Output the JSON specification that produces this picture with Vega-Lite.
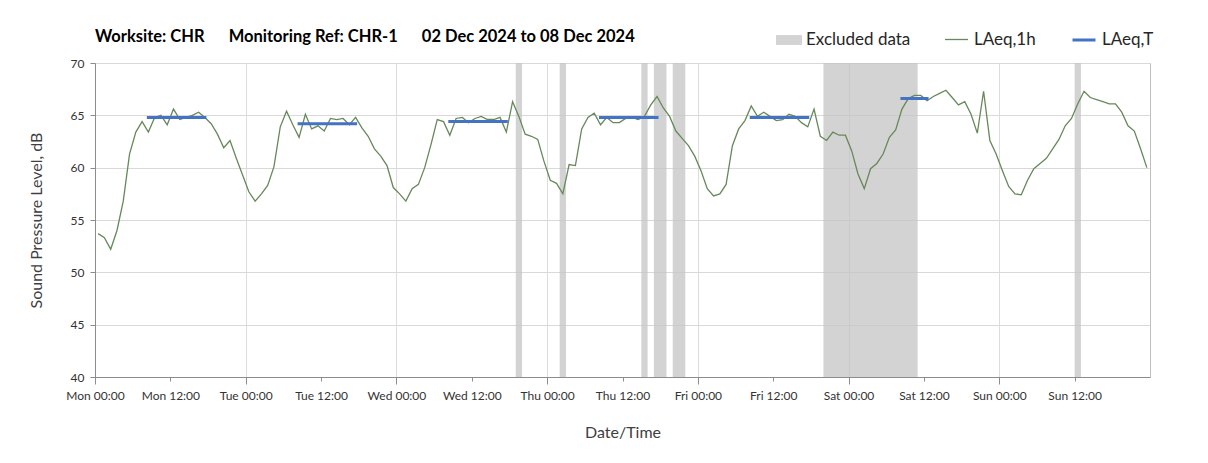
{
  "$schema": "https://vega.github.io/schema/vega-lite/v6.json",
  "width": 1055,
  "height": 314,
  "autosize": {"type": "none"},
  "padding": {"left": 95, "top": 63, "right": 58, "bottom": 86},
  "background": "white",
  "config": {"font": "Lato", "view": {"stroke": "#bfbfbf", "strokeWidth": 1}},
  "title": {
    "text": "Worksite: CHR\u00a0\u00a0\u00a0\u00a0\u00a0\u00a0Monitoring Ref: CHR-1\u00a0\u00a0\u00a0\u00a0\u00a0\u00a002 Dec 2024 to 08 Dec 2024",
    "anchor": "start", "frame": "group", "fontSize": 16.5, "fontWeight": "bold",
    "color": "#000000", "offset": 18, "dy": 36, "font": "Lato"
  },
  "layer": [
    {
      "data": {"values": [
        {"t": "2024-12-04T19:00", "t2": "2024-12-04T20:00"},
        {"t": "2024-12-05T02:00", "t2": "2024-12-05T03:00"},
        {"t": "2024-12-05T15:00", "t2": "2024-12-05T16:00"},
        {"t": "2024-12-05T17:00", "t2": "2024-12-05T19:00"},
        {"t": "2024-12-05T20:00", "t2": "2024-12-05T22:00"},
        {"t": "2024-12-06T20:00", "t2": "2024-12-07T11:00"},
        {"t": "2024-12-08T12:00", "t2": "2024-12-08T13:00"}
      ]},
      "mark": {"type": "rect", "opacity": 0.75},
      "encoding": {
        "x": {
          "field": "t", "type": "temporal",
          "scale": {"domain": [{"year": 2024, "month": 12, "date": 2, "hours": 0}, {"year": 2024, "month": 12, "date": 9, "hours": 0}]},
          "axis": {
            "values": [
              {"year": 2024, "month": 12, "date": 2, "hours": 0}, {"year": 2024, "month": 12, "date": 2, "hours": 12},
              {"year": 2024, "month": 12, "date": 3, "hours": 0}, {"year": 2024, "month": 12, "date": 3, "hours": 12},
              {"year": 2024, "month": 12, "date": 4, "hours": 0}, {"year": 2024, "month": 12, "date": 4, "hours": 12},
              {"year": 2024, "month": 12, "date": 5, "hours": 0}, {"year": 2024, "month": 12, "date": 5, "hours": 12},
              {"year": 2024, "month": 12, "date": 6, "hours": 0}, {"year": 2024, "month": 12, "date": 6, "hours": 12},
              {"year": 2024, "month": 12, "date": 7, "hours": 0}, {"year": 2024, "month": 12, "date": 7, "hours": 12},
              {"year": 2024, "month": 12, "date": 8, "hours": 0}, {"year": 2024, "month": 12, "date": 8, "hours": 12}
            ],
            "format": "%a %H:%M",
            "labelFlush": false,
            "labelOverlap": false,
            "labelFontSize": 12,
            "labelColor": "#333333",
            "labelPadding": {"condition": {"test": "hours(datum.value) === 0", "value": 6}, "value": 9},
            "title": "Date/Time",
            "titleFontSize": 16,
            "titleFontWeight": "normal",
            "titleColor": "#404040",
            "titlePadding": 23,
            "domainColor": "#8c8c8c",
            "tickColor": "#8c8c8c",
            "tickSize": {"condition": {"test": "hours(datum.value) === 0", "value": 7}, "value": 4},
            "gridColor": "#dcdcdc",
            "gridOpacity": {"condition": {"test": "hours(datum.value) === 0", "value": 1}, "value": 0}
          }
        },
        "x2": {"field": "t2"},
        "fill": {
          "datum": "Excluded data",
          "scale": {"domain": ["Excluded data"], "range": ["#c4c4c4"]},
          "legend": {
            "title": null,
            "orient": "none",
            "legendX": 681,
            "legendY": -36,
            "labelFontSize": 17,
            "labelFont": "Lato",
            "labelColor": "#262626",
            "labelOffset": 4,
            "symbolSize": 676,
            "symbolType": "M-1,-0.38H1V0.38H-1Z",
            "symbolStrokeWidth": 0
          }
        }
      }
    },
    {
      "data": {"values": [
        {"t": "2024-12-02T00:30", "v": 53.7}, {"t": "2024-12-02T01:30", "v": 53.3}, {"t": "2024-12-02T02:30", "v": 52.2}, {"t": "2024-12-02T03:30", "v": 54.0},
        {"t": "2024-12-02T04:30", "v": 56.8}, {"t": "2024-12-02T05:30", "v": 61.3}, {"t": "2024-12-02T06:30", "v": 63.4}, {"t": "2024-12-02T07:30", "v": 64.4},
        {"t": "2024-12-02T08:30", "v": 63.4}, {"t": "2024-12-02T09:30", "v": 64.8}, {"t": "2024-12-02T10:30", "v": 65.0}, {"t": "2024-12-02T11:30", "v": 64.1},
        {"t": "2024-12-02T12:30", "v": 65.6}, {"t": "2024-12-02T13:30", "v": 64.6}, {"t": "2024-12-02T14:30", "v": 64.8}, {"t": "2024-12-02T15:30", "v": 65.0},
        {"t": "2024-12-02T16:30", "v": 65.3}, {"t": "2024-12-02T17:30", "v": 64.8}, {"t": "2024-12-02T18:30", "v": 64.2}, {"t": "2024-12-02T19:30", "v": 63.2},
        {"t": "2024-12-02T20:30", "v": 61.9}, {"t": "2024-12-02T21:30", "v": 62.6}, {"t": "2024-12-02T22:30", "v": 60.9}, {"t": "2024-12-02T23:30", "v": 59.3},
        {"t": "2024-12-03T00:30", "v": 57.7}, {"t": "2024-12-03T01:30", "v": 56.8}, {"t": "2024-12-03T02:30", "v": 57.5}, {"t": "2024-12-03T03:30", "v": 58.3},
        {"t": "2024-12-03T04:30", "v": 60.1}, {"t": "2024-12-03T05:30", "v": 63.9}, {"t": "2024-12-03T06:30", "v": 65.4}, {"t": "2024-12-03T07:30", "v": 64.1},
        {"t": "2024-12-03T08:30", "v": 62.9}, {"t": "2024-12-03T09:30", "v": 65.1}, {"t": "2024-12-03T10:30", "v": 63.7}, {"t": "2024-12-03T11:30", "v": 64.0},
        {"t": "2024-12-03T12:30", "v": 63.5}, {"t": "2024-12-03T13:30", "v": 64.7}, {"t": "2024-12-03T14:30", "v": 64.6}, {"t": "2024-12-03T15:30", "v": 64.7},
        {"t": "2024-12-03T16:30", "v": 64.1}, {"t": "2024-12-03T17:30", "v": 64.8}, {"t": "2024-12-03T18:30", "v": 63.8}, {"t": "2024-12-03T19:30", "v": 63.0},
        {"t": "2024-12-03T20:30", "v": 61.8}, {"t": "2024-12-03T21:30", "v": 61.1}, {"t": "2024-12-03T22:30", "v": 60.2}, {"t": "2024-12-03T23:30", "v": 58.1},
        {"t": "2024-12-04T00:30", "v": 57.5}, {"t": "2024-12-04T01:30", "v": 56.8}, {"t": "2024-12-04T02:30", "v": 58.0}, {"t": "2024-12-04T03:30", "v": 58.4},
        {"t": "2024-12-04T04:30", "v": 60.0}, {"t": "2024-12-04T05:30", "v": 62.2}, {"t": "2024-12-04T06:30", "v": 64.6}, {"t": "2024-12-04T07:30", "v": 64.4},
        {"t": "2024-12-04T08:30", "v": 63.1}, {"t": "2024-12-04T09:30", "v": 64.7}, {"t": "2024-12-04T10:30", "v": 64.8}, {"t": "2024-12-04T11:30", "v": 64.3},
        {"t": "2024-12-04T12:30", "v": 64.7}, {"t": "2024-12-04T13:30", "v": 64.9}, {"t": "2024-12-04T14:30", "v": 64.6}, {"t": "2024-12-04T15:30", "v": 64.6},
        {"t": "2024-12-04T16:30", "v": 64.8}, {"t": "2024-12-04T17:30", "v": 63.4}, {"t": "2024-12-04T18:30", "v": 66.3}, {"t": "2024-12-04T19:30", "v": 64.9},
        {"t": "2024-12-04T20:30", "v": 63.2}, {"t": "2024-12-04T21:30", "v": 63.0}, {"t": "2024-12-04T22:30", "v": 62.7}, {"t": "2024-12-04T23:30", "v": 60.6},
        {"t": "2024-12-05T00:30", "v": 58.8}, {"t": "2024-12-05T01:30", "v": 58.5}, {"t": "2024-12-05T02:30", "v": 57.5}, {"t": "2024-12-05T03:30", "v": 60.3},
        {"t": "2024-12-05T04:30", "v": 60.2}, {"t": "2024-12-05T05:30", "v": 63.7}, {"t": "2024-12-05T06:30", "v": 64.8}, {"t": "2024-12-05T07:30", "v": 65.2},
        {"t": "2024-12-05T08:30", "v": 64.1}, {"t": "2024-12-05T09:30", "v": 64.8}, {"t": "2024-12-05T10:30", "v": 64.3}, {"t": "2024-12-05T11:30", "v": 64.3},
        {"t": "2024-12-05T12:30", "v": 64.7}, {"t": "2024-12-05T13:30", "v": 64.8}, {"t": "2024-12-05T14:30", "v": 64.6}, {"t": "2024-12-05T15:30", "v": 64.9},
        {"t": "2024-12-05T16:30", "v": 66.0}, {"t": "2024-12-05T17:30", "v": 66.8}, {"t": "2024-12-05T18:30", "v": 65.7}, {"t": "2024-12-05T19:30", "v": 64.9},
        {"t": "2024-12-05T20:30", "v": 63.5}, {"t": "2024-12-05T21:30", "v": 62.8}, {"t": "2024-12-05T22:30", "v": 62.1}, {"t": "2024-12-05T23:30", "v": 61.1},
        {"t": "2024-12-06T00:30", "v": 59.7}, {"t": "2024-12-06T01:30", "v": 58.0}, {"t": "2024-12-06T02:30", "v": 57.3}, {"t": "2024-12-06T03:30", "v": 57.5},
        {"t": "2024-12-06T04:30", "v": 58.4}, {"t": "2024-12-06T05:30", "v": 62.1}, {"t": "2024-12-06T06:30", "v": 63.7}, {"t": "2024-12-06T07:30", "v": 64.5},
        {"t": "2024-12-06T08:30", "v": 65.9}, {"t": "2024-12-06T09:30", "v": 64.9}, {"t": "2024-12-06T10:30", "v": 65.3}, {"t": "2024-12-06T11:30", "v": 64.9},
        {"t": "2024-12-06T12:30", "v": 64.5}, {"t": "2024-12-06T13:30", "v": 64.6}, {"t": "2024-12-06T14:30", "v": 65.1}, {"t": "2024-12-06T15:30", "v": 64.9},
        {"t": "2024-12-06T16:30", "v": 64.3}, {"t": "2024-12-06T17:30", "v": 63.9}, {"t": "2024-12-06T18:30", "v": 65.6}, {"t": "2024-12-06T19:30", "v": 63.0},
        {"t": "2024-12-06T20:30", "v": 62.6}, {"t": "2024-12-06T21:30", "v": 63.4}, {"t": "2024-12-06T22:30", "v": 63.1}, {"t": "2024-12-06T23:30", "v": 63.1},
        {"t": "2024-12-07T00:30", "v": 61.6}, {"t": "2024-12-07T01:30", "v": 59.4}, {"t": "2024-12-07T02:30", "v": 58.0}, {"t": "2024-12-07T03:30", "v": 59.9},
        {"t": "2024-12-07T04:30", "v": 60.4}, {"t": "2024-12-07T05:30", "v": 61.3}, {"t": "2024-12-07T06:30", "v": 62.9}, {"t": "2024-12-07T07:30", "v": 63.6},
        {"t": "2024-12-07T08:30", "v": 65.6}, {"t": "2024-12-07T09:30", "v": 66.6}, {"t": "2024-12-07T10:30", "v": 66.9}, {"t": "2024-12-07T11:30", "v": 66.9},
        {"t": "2024-12-07T12:30", "v": 66.4}, {"t": "2024-12-07T13:30", "v": 66.8}, {"t": "2024-12-07T14:30", "v": 67.1}, {"t": "2024-12-07T15:30", "v": 67.4},
        {"t": "2024-12-07T16:30", "v": 66.7}, {"t": "2024-12-07T17:30", "v": 66.0}, {"t": "2024-12-07T18:30", "v": 66.3}, {"t": "2024-12-07T19:30", "v": 65.1},
        {"t": "2024-12-07T20:30", "v": 63.3}, {"t": "2024-12-07T21:30", "v": 67.3}, {"t": "2024-12-07T22:30", "v": 62.6}, {"t": "2024-12-07T23:30", "v": 61.3},
        {"t": "2024-12-08T00:30", "v": 59.7}, {"t": "2024-12-08T01:30", "v": 58.2}, {"t": "2024-12-08T02:30", "v": 57.5}, {"t": "2024-12-08T03:30", "v": 57.4},
        {"t": "2024-12-08T04:30", "v": 58.8}, {"t": "2024-12-08T05:30", "v": 59.9}, {"t": "2024-12-08T06:30", "v": 60.4}, {"t": "2024-12-08T07:30", "v": 60.9},
        {"t": "2024-12-08T08:30", "v": 61.8}, {"t": "2024-12-08T09:30", "v": 62.7}, {"t": "2024-12-08T10:30", "v": 64.0}, {"t": "2024-12-08T11:30", "v": 64.7},
        {"t": "2024-12-08T12:30", "v": 66.1}, {"t": "2024-12-08T13:30", "v": 67.3}, {"t": "2024-12-08T14:30", "v": 66.7}, {"t": "2024-12-08T15:30", "v": 66.5},
        {"t": "2024-12-08T16:30", "v": 66.3}, {"t": "2024-12-08T17:30", "v": 66.1}, {"t": "2024-12-08T18:30", "v": 66.1}, {"t": "2024-12-08T19:30", "v": 65.3},
        {"t": "2024-12-08T20:30", "v": 64.0}, {"t": "2024-12-08T21:30", "v": 63.5}, {"t": "2024-12-08T22:30", "v": 61.8}, {"t": "2024-12-08T23:30", "v": 60.0}
      ]},
      "mark": {"type": "line", "strokeWidth": 1.3},
      "encoding": {
        "x": {"field": "t", "type": "temporal"},
        "y": {
          "field": "v", "type": "quantitative",
          "scale": {"domain": [40, 70]},
          "axis": {
            "values": [40, 45, 50, 55, 60, 65, 70],
            "title": "Sound Pressure Level, dB",
            "titleFontSize": 16,
            "titleFontWeight": "normal",
            "titleColor": "#404040",
            "titlePadding": 26,
            "labelFontSize": 12,
            "labelColor": "#333333",
            "labelPadding": 6,
            "tickSize": 5,
            "domainColor": "#8c8c8c",
            "tickColor": "#8c8c8c",
            "gridColor": "#d9d9d9"
          }
        },
        "stroke": {
          "datum": "LAeq,1h",
          "scale": {"domain": ["LAeq,1h"], "range": ["#67895a"]},
          "legend": {
            "title": null,
            "orient": "none",
            "legendX": 849,
            "legendY": -36,
            "labelFontSize": 17,
            "labelFont": "Lato",
            "labelColor": "#262626",
            "labelOffset": 5,
            "symbolSize": 529,
            "symbolType": "stroke",
            "symbolStrokeWidth": 1.3
          }
        }
      }
    },
    {
      "data": {"values": [
        {"t": "2024-12-02T08:30", "t2": "2024-12-02T17:30", "v": 64.8},
        {"t": "2024-12-03T08:30", "t2": "2024-12-03T17:30", "v": 64.2},
        {"t": "2024-12-04T08:30", "t2": "2024-12-04T17:30", "v": 64.4},
        {"t": "2024-12-05T08:30", "t2": "2024-12-05T17:30", "v": 64.8},
        {"t": "2024-12-06T08:30", "t2": "2024-12-06T17:30", "v": 64.8},
        {"t": "2024-12-07T08:30", "t2": "2024-12-07T12:30", "v": 66.6}
      ]},
      "mark": {"type": "rule", "strokeWidth": 3, "strokeCap": "square", "color": "#4472c4"},
      "encoding": {
        "x": {"field": "t", "type": "temporal"},
        "x2": {"field": "t2"},
        "y": {"field": "v", "type": "quantitative"},
        "strokeDash": {
          "datum": "LAeq,T",
          "scale": {"domain": ["LAeq,T"], "range": [[10, 0]]},
          "legend": {
            "title": null,
            "orient": "none",
            "legendX": 976,
            "legendY": -36,
            "labelFontSize": 17,
            "labelFont": "Lato",
            "labelColor": "#262626",
            "labelOffset": 5,
            "symbolSize": 529,
            "symbolType": "stroke",
            "symbolStrokeWidth": 3,
            "symbolStrokeColor": "#4472c4"
          }
        }
      }
    }
  ]
}
